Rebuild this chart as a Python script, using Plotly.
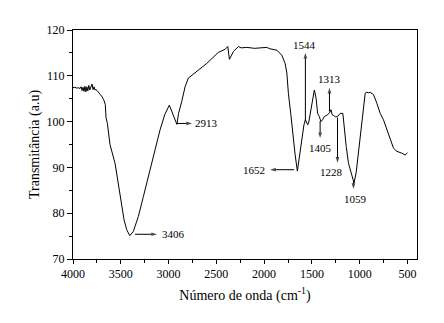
import plotly.graph_objects as go

# Wavenumber (cm^-1) and transmittance (a.u.)
wavenumber = [4000, 3980, 3960, 3940, 3927, 3915, 3905, 3895, 3885, 3875, 3865, 3855,
              3845, 3835, 3825, 3815, 3808, 3801, 3790, 3780, 3770, 3760, 3749, 3730,
              3714, 3695, 3679, 3662, 3654, 3640, 3630, 3613, 3560, 3508, 3466, 3438, 3406,
              3369, 3316, 3264, 3194, 3141, 3089, 3040, 2992, 2913, 2895, 2862, 2827,
              2793, 2705, 2600, 2479, 2408, 2380, 2363, 2321, 2269, 2240, 2181, 2100,
              2050, 1972, 1940, 1867, 1815, 1780, 1762, 1746, 1720, 1700, 1675, 1652,
              1625, 1600, 1583, 1568, 1544, 1535, 1515, 1490, 1474, 1456, 1440, 1423,
              1405, 1388, 1370, 1335, 1313, 1300, 1288, 1270, 1250, 1228, 1204, 1176,
              1162, 1141, 1117, 1092, 1059, 1037, 1013, 988, 960, 942, 925, 908, 890,
              872, 855, 820, 785, 751, 715, 681, 646, 610, 580, 558, 524, 500]
transmittance = [107.4, 107.5, 107.3, 107.4, 107.2, 107.6, 106.8, 107.5, 106.6, 107.7, 106.5, 107.6,
                 106.7, 107.9, 106.9, 107.6, 108.1, 108.2, 107.0, 107.6, 106.9, 107.0, 106.8, 106.2,
                 105.9, 105.4, 104.8, 103.7, 100.8, 99.6, 98.2, 95.0, 90.9, 83.6, 78.6, 76.4, 75.1,
                 76.0, 79.3, 83.6, 89.5, 93.8, 98.2, 101.5, 103.6, 99.4, 101.8, 104.4, 107.6,
                 109.5, 110.9, 112.7, 115.1, 115.8, 116.4, 113.6, 115.3, 116.4, 116.1, 116.2, 116.0,
                 116.1, 116.2, 115.9, 115.6, 114.5, 112.7, 110.6, 106.2, 101.5, 97.1, 92.7, 89.2,
                 93.5, 97.1, 99.3, 100.4, 99.3, 99.6, 102.2, 105.5, 106.9, 105.1, 101.8, 101.1,
                 100.0, 100.4, 101.1, 101.5, 102.0, 102.6, 101.5, 101.3, 101.0, 101.2, 101.8, 101.8,
                 98.2, 94.6, 90.9, 88.8, 86.6, 88.8, 93.1, 98.2, 103.3, 106.2, 106.4, 106.3, 106.4,
                 106.2, 105.9, 104.0, 101.8, 100.4, 98.2, 96.0, 94.2, 93.5, 93.3, 93.1, 92.7, 93.2]

peak_labels = ["3406", "2913", "1652", "1544", "1313", "1405", "1228", "1059"]

x_ticks = [4000, 3500, 3000, 2500, 2000, 1500, 1000, 500]
y_ticks = [70, 80, 90, 100, 110, 120]

FONT = "Liberation Serif"

fig = go.Figure()
fig.add_trace(go.Scatter(x=wavenumber, y=transmittance, mode="lines",
                         line=dict(color="black", width=1), showlegend=False,
                         hoverinfo="skip"))

# arrow geometry per label: (tail x, tail y, head x, head y, label x, label y, anchor)
geometry = [
    (3351, 75.4, 3120, 75.4, 3092, 75.4, "left"),
    (2911, 99.6, 2754, 99.6, 2745, 99.6, "left"),
    (1686, 89.5, 1937, 89.5, 1975, 89.5, "right"),
    (1568, 100.2, 1568, 115.0, 1578, 116.8, "center"),
    (1316, 102.2, 1316, 107.4, 1316, 109.4, "center"),
    (1414, 100.1, 1414, 96.4, 1405, 94.2, "center"),
    (1232, 100.9, 1232, 91.0, 1298, 88.9, "center"),
    (1065, 86.8, 1065, 85.3, 1044, 83.0, "center"),
]
for lab, (tx, ty, hx, hy, lx, ly, anc) in zip(peak_labels, geometry):
    fig.add_trace(go.Scatter(x=[tx, hx], y=[ty, hy], mode="lines+markers",
                             line=dict(color="black", width=1),
                             marker=dict(symbol=["circle", "arrow"], size=[0, 6],
                                         angleref="previous", color="black",
                                         line=dict(width=0)),
                             showlegend=False, hoverinfo="skip"))
    fig.add_annotation(x=lx, y=ly, xref="x", yref="y", text=lab, showarrow=False,
                       xanchor=anc, yanchor="middle",
                       font=dict(family=FONT, size=11, color="black"))

# page body adds an 8px offset, so the figure is sized to fit inside the window
fig.update_layout(
    width=436, height=315,
    margin=dict(l=65, r=27, t=22, b=64, autoexpand=False),
    paper_bgcolor="white", plot_bgcolor="white",
    font=dict(family=FONT, size=11, color="black"),
)
fig.update_xaxes(range=[4000, 400], tickvals=x_ticks, showgrid=False, zeroline=False,
                 automargin=False,
                 showline=True, linecolor="black", linewidth=1, mirror=True,
                 ticks="outside", ticklen=4, tickcolor="black",
                 minor=dict(ticks="outside", ticklen=3, dtick=250, tickcolor="black", showgrid=False),
                 tickfont=dict(family=FONT, size=12),
                 title=dict(text="Número de onda (cm<sup>-1</sup>)", font=dict(family=FONT, size=14), standoff=9))
fig.update_yaxes(range=[70, 120], tickvals=y_ticks, showgrid=False, zeroline=False,
                 automargin=False,
                 showline=True, linecolor="black", linewidth=1, mirror=True,
                 ticks="outside", ticklen=5, tickcolor="black",
                 minor=dict(ticks="outside", ticklen=3, dtick=5, tickcolor="black", showgrid=False),
                 tickfont=dict(family=FONT, size=12),
                 title=dict(text="Transmitância (a.u)", font=dict(family=FONT, size=14), standoff=3))

fig.write_html("out.html")
